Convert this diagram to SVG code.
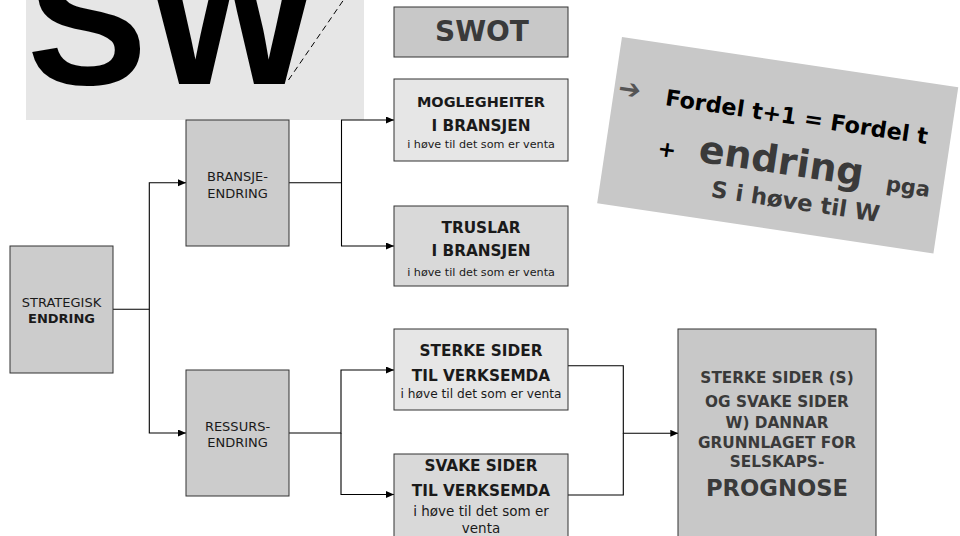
<svg xmlns="http://www.w3.org/2000/svg" width="960" height="536" viewBox="0 0 960 536">
  <defs>
    <marker id="arrow" markerUnits="userSpaceOnUse" markerWidth="9" markerHeight="8" refX="8" refY="3.5" orient="auto">
      <path d="M0,0 L8,3.5 L0,7 z" fill="#000"/>
    </marker>
    <style>
      .box { stroke: #333; stroke-width: 1; }
      .dark { fill: #cccccc; }
      .light { fill: #e6e6e6; }
      .mid { fill: #d9d9d9; }
      .t { font-family: "DejaVu Sans", Verdana, sans-serif; fill: #1a1a1a; text-anchor: middle; }
      .reg { font-size: 13px; }
      .b { font-weight: bold; }
      .head { font-size: 15.3px; font-weight: bold; }
      .wire { fill: none; stroke: #000; stroke-width: 1.1; }
      .f { font-family: "DejaVu Sans", Verdana, sans-serif; font-weight: bold; }
    </style>
  </defs>

  <rect width="960" height="536" fill="#ffffff"/>

  <!-- banner with large letters -->
  <g id="sw-banner">
    <rect x="26" y="0" width="338" height="120" fill="#e6e6e6"/>
    <text x="27" y="84" font-family="Liberation Sans, Arial, sans-serif" font-weight="bold" font-size="180" fill="#000">SW</text>
    <line x1="288.5" y1="80" x2="343.5" y2="0" stroke="#000" stroke-width="1" stroke-dasharray="6 4"/>
  </g>

  <!-- title -->
  <g id="swot">
    <rect class="box" x="394" y="7" width="174" height="50" fill="#c8c8c8"/>
    <text class="t b" x="482" y="41" font-size="28" style="fill:#3a3a3a">SWOT</text>
  </g>

  <!-- tilted formula card -->
  <g id="formula" transform="translate(777.7 145.2) rotate(8.5)">
    <rect x="-170" y="-84" width="340" height="168" fill="#c8c8c8"/>
    <text class="f" x="-166" y="-24.5" font-size="27" fill="#555">➔</text>
    <text class="f" x="-118" y="-23" font-size="22.4" fill="#000">Fordel t+1 = Fordel t</text>
    <text class="f" x="-118" y="28" font-size="22" fill="#000">+</text>
    <text class="f" x="-77" y="28" font-size="38" fill="#3a3a3a">endring</text>
    <text class="f" x="113" y="29" font-size="21" fill="#3a3a3a">pga</text>
    <text class="f" x="-59" y="61" font-size="22.8" fill="#3a3a3a">S i høve til W</text>
  </g>

  <!-- connectors -->
  <g id="connectors">
    <path class="wire" d="M113,309.3 H149.3 V182.7 H186" marker-end="url(#arrow)"/>
    <path class="wire" d="M149.3,309.3 V433 H186" marker-end="url(#arrow)"/>
    <path class="wire" d="M289,182.7 H341.5 V120 H394" marker-end="url(#arrow)"/>
    <path class="wire" d="M341.5,182.7 V246 H394" marker-end="url(#arrow)"/>
    <path class="wire" d="M289,433 H341 V370 H394" marker-end="url(#arrow)"/>
    <path class="wire" d="M341,433 V494.5 H394" marker-end="url(#arrow)"/>
    <path class="wire" d="M568,365.7 H623.3 V433.3 H678.3" marker-end="url(#arrow)"/>
    <path class="wire" d="M568,495 H623.3 V433.3"/>
  </g>

  <g id="strategisk">
    <rect class="box dark" x="10" y="246" width="103" height="127"/>
    <text class="t reg" x="61.5" y="306.7">STRATEGISK</text>
    <text class="t reg b" x="61.5" y="323">ENDRING</text>
  </g>

  <g id="bransje">
    <rect class="box dark" x="186" y="120" width="103" height="126"/>
    <text class="t reg" x="237.5" y="181">BRANSJE-</text>
    <text class="t reg" x="237.5" y="198">ENDRING</text>
  </g>

  <g id="ressurs">
    <rect class="box dark" x="186" y="370" width="103" height="126"/>
    <text class="t reg" x="237.5" y="430.7">RESSURS-</text>
    <text class="t reg" x="237.5" y="447.3">ENDRING</text>
  </g>

  <g id="moglegheiter">
    <rect class="box light" x="394" y="79" width="174" height="82"/>
    <text class="t b" x="481" y="107.3" font-size="14.5">MOGLEGHEITER</text>
    <text class="t head" x="481" y="130.7">I BRANSJEN</text>
    <text class="t" x="481" y="148" font-size="11.2">i høve til det som er venta</text>
  </g>

  <g id="truslar">
    <rect class="box mid" x="394" y="206" width="174" height="80"/>
    <text class="t head" x="481" y="232.7">TRUSLAR</text>
    <text class="t head" x="481" y="256">I BRANSJEN</text>
    <text class="t" x="481" y="276" font-size="11.2">i høve til det som er venta</text>
  </g>

  <g id="sterke">
    <rect class="box light" x="394" y="329" width="174" height="81"/>
    <text class="t head" x="481" y="356">STERKE SIDER</text>
    <text class="t head" x="481" y="381">TIL VERKSEMDA</text>
    <text class="t" x="481" y="398" font-size="12.2">i høve til det som er venta</text>
  </g>

  <g id="svake">
    <rect class="box mid" x="394" y="454" width="174" height="100"/>
    <text class="t head" x="481" y="470.7">SVAKE SIDER</text>
    <text class="t head" x="481" y="496">TIL VERKSEMDA</text>
    <text class="t" x="481" y="516" font-size="13.5">i høve til det som er</text>
    <text class="t" x="481" y="533" font-size="13.5">venta</text>
  </g>

  <g id="prognose">
    <rect class="box" x="678" y="329" width="198" height="230" fill="#c8c8c8"/>
    <g class="t b" style="fill:#3a3a3a">
      <text x="777" y="383.3" font-size="15.3">STERKE SIDER (S)</text>
      <text x="777" y="406.7" font-size="15.3">OG SVAKE SIDER</text>
      <text x="777" y="428.3" font-size="15.3">W) DANNAR</text>
      <text x="777" y="447.7" font-size="15.3">GRUNNLAGET FOR</text>
      <text x="777" y="467.3" font-size="15.3">SELSKAPS-</text>
      <text x="777" y="496" font-size="22.7">PROGNOSE</text>
    </g>
  </g>
</svg>
